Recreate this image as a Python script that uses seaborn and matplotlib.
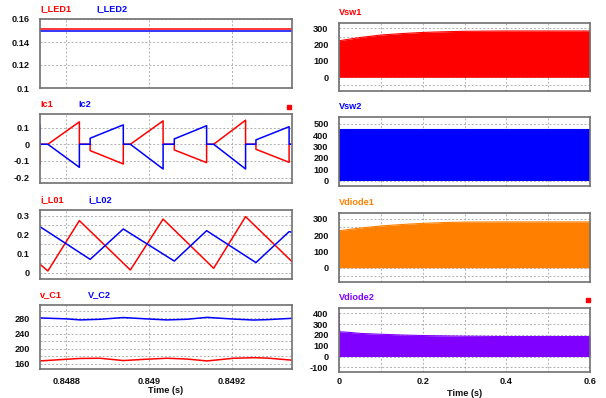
import matplotlib
matplotlib.use("Agg")
import matplotlib.pyplot as plt
import seaborn as sns
from matplotlib.ticker import FixedLocator, FixedFormatter, MultipleLocator
from matplotlib.patches import Rectangle

# ---------------- data ----------------
# left column: zoomed time window
led_t = [0.848737, 0.849345]
i_led1 = [0.1511, 0.1511]
i_led2 = [0.1492, 0.1492]

ic_t = [0.848737, 0.848737, 0.848756, 0.848832, 0.848832, 0.848858, 0.848858,
        0.848938, 0.848938, 0.848955, 0.849034, 0.849034, 0.849061, 0.849061,
        0.849139, 0.849139, 0.849156, 0.849233, 0.849233, 0.849258, 0.849258,
        0.849338, 0.849338, 0.849345]
ic1 = [-0.12, 0, 0, 0.134, 0, 0, -0.038, -0.118, 0, 0, 0.14, 0, 0, -0.034,
       -0.11, 0, 0, 0.144, 0, 0, -0.03, -0.108, 0, 0]
ic2 = [0.116, 0, 0, -0.138, 0, 0, 0.036, 0.116, 0, 0, -0.148, 0, 0, 0.032,
       0.111, 0, 0, -0.148, 0, 0, 0.026, 0.105, 0, 0]

il01_t = [0.848737, 0.848756, 0.848832, 0.848955, 0.849034, 0.849156, 0.849233, 0.849345]
i_l01 = [0.044, 0.009, 0.274, 0.014, 0.282, 0.023, 0.295, 0.058]
il02_t = [0.848737, 0.848858, 0.848938, 0.849061, 0.849139, 0.849258, 0.849338, 0.849345]
i_l02 = [0.242, 0.07, 0.23, 0.061, 0.221, 0.053, 0.216, 0.213]

vc_t = [0.848737, 0.848802, 0.848834, 0.848882, 0.848938, 0.848994, 0.849043,
        0.849091, 0.849140, 0.849204, 0.849252, 0.849285, 0.849345]
v_c1 = [168, 172.5, 174.5, 175, 169, 172.5, 175, 173, 168, 175, 176.5, 175.5, 170]
v_c2 = [281, 278.5, 275.8, 277.5, 282, 278.5, 275.8, 277.5, 282.5, 278, 275.5, 276.5, 280]

# right column: full simulation, switching envelopes (upper edge, lower edge = 0)
sw_t = [0, 0.05, 0.1, 0.15, 0.2, 0.25, 0.3, 0.4, 0.5, 0.6]
vsw1_top = [224, 244, 259, 268, 275, 279, 282, 284, 284, 284]
vsw2_t = [0, 0.6]
vsw2_top = [455, 455]
vd1_top = [228, 244, 257, 266, 273, 278, 281, 282, 282, 282]
vd2_t = [0, 0.0015, 0.003, 0.02, 0.05, 0.1, 0.15, 0.2, 0.3, 0.4, 0.5, 0.6]
vd2_top = [400, 228, 228, 225, 214, 206, 199, 194, 188, 185, 185, 185]

RED, BLUE, ORANGE, PURPLE = "#FF0000", "#0000FF", "#FF8000", "#8000FF"

# ---------------- figure ----------------
sns.set_style("white")
plt.rcParams["font.family"] = ["Liberation Sans", "DejaVu Sans"]
plt.rcParams["font.weight"] = "bold"

W, H = 606, 398
fig = plt.figure(figsize=(W / 100, H / 100), dpi=100)
fig.patch.set_facecolor("white")


def box(x0, y0, x1, y1):
    return [x0 / W, 1 - y1 / H, (x1 - x0) / W, (y1 - y0) / H]


def ftext(x, y, s, color, size=6.6, ha="left"):
    fig.text(x / W, 1 - y / H, s, color=color, fontsize=size, fontweight="bold",
             ha=ha, va="center")


def style(ax, ylim, yticks, ylabels, yminor=None, xright=False, bottom=False, xpad=5.5):
    ax.set_ylim(*ylim)
    ax.yaxis.set_major_locator(FixedLocator(yticks))
    ax.yaxis.set_major_formatter(FixedFormatter(ylabels))
    if yminor:
        ax.yaxis.set_minor_locator(MultipleLocator(yminor))
    if xright:
        ax.set_xlim(0, 0.6)
        ax.xaxis.set_major_locator(FixedLocator([0, 0.2, 0.4, 0.6]))
        ax.xaxis.set_major_formatter(FixedFormatter(["0", "0.2", "0.4", "0.6"]))
        ax.xaxis.set_minor_locator(MultipleLocator(0.1))
    else:
        ax.set_xlim(0.848737, 0.849345)
        ax.xaxis.set_major_locator(FixedLocator([0.8488, 0.849, 0.8492]))
        ax.xaxis.set_major_formatter(FixedFormatter(["0.8488", "0.849", "0.8492"]))
    ax.grid(True, which="both", color="#B0B0B0", linestyle=(0, (2, 2)), linewidth=0.7)
    ax.set_axisbelow(True)
    ax.tick_params(which="both", length=0, labelsize=6.6, pad=7.5, labelcolor="#111111")
    ax.tick_params(axis="x", pad=xpad)
    for lab in ax.get_yticklabels() + ax.get_xticklabels():
        lab.set_fontweight("bold")
    if not bottom:
        ax.tick_params(axis="x", labelbottom=False)
    for sp in ax.spines.values():
        sp.set_color("#707070")
        sp.set_linewidth(1.2)
    ax.set_xlabel("")
    ax.set_ylabel("")


def lp(ax, x, y, c, lw=1.1):
    sns.lineplot(x=x, y=y, ax=ax, estimator=None, sort=False, color=c, linewidth=lw)


# ---- left column ----
a1 = fig.add_axes(box(40, 19, 292, 88))
lp(a1, led_t, i_led1, RED, 1.1)
lp(a1, led_t, i_led2, BLUE, 1.1)
style(a1, (0.1, 0.16), [0.1, 0.12, 0.14, 0.16], ["0.1", "0.12", "0.14", "0.16"])

a2 = fig.add_axes(box(40, 114, 292, 182.7))
lp(a2, ic_t, ic1, RED)
lp(a2, ic_t, ic2, BLUE)
style(a2, (-0.23, 0.181), [-0.2, -0.1, 0, 0.1], ["-0.2", "-0.1", "0", "0.1"])

a3 = fig.add_axes(box(40, 210, 292, 279.3))
lp(a3, il01_t, i_l01, RED)
lp(a3, il02_t, i_l02, BLUE)
style(a3, (-0.035, 0.33), [0, 0.1, 0.2, 0.3], ["0", "0.1", "0.2", "0.3"], yminor=0.05)

a4 = fig.add_axes(box(40, 305, 292, 369.3))
lp(a4, vc_t, v_c1, RED)
lp(a4, vc_t, v_c2, BLUE)
style(a4, (146, 315), [160, 200, 240, 280], ["160", "200", "240", "280"], yminor=20,
      bottom=True, xpad=5.5)

# ---- right column ----
b1 = fig.add_axes(box(339, 23.3, 590, 90.7))
b1.fill_between(sw_t, 0, vsw1_top, color=RED, lw=0)
lp(b1, sw_t, vsw1_top, RED, 0.8)
style(b1, (-82, 331), [0, 100, 200, 300], ["0", "100", "200", "300"], yminor=50, xright=True)

b2 = fig.add_axes(box(339, 117.3, 590, 186))
b2.fill_between(vsw2_t, 0, vsw2_top, color=BLUE, lw=0)
lp(b2, vsw2_t, vsw2_top, BLUE, 0.8)
style(b2, (-47, 559), [0, 100, 200, 300, 400, 500], ["0", "100", "200", "300", "400", "500"],
      xright=True)

b3 = fig.add_axes(box(339, 213.3, 590, 281.7))
b3.fill_between(sw_t, 0, vd1_top, color=ORANGE, lw=0)
lp(b3, sw_t, vd1_top, ORANGE, 0.8)
style(b3, (-86, 335), [0, 100, 200, 300], ["0", "100", "200", "300"], yminor=50, xright=True)

b4 = fig.add_axes(box(339, 308.3, 590, 372.3))
b4.fill_between(vd2_t, 0, vd2_top, color=PURPLE, lw=0)
lp(b4, vd2_t, vd2_top, PURPLE, 0.8)
style(b4, (-146, 446), [-100, 0, 100, 200, 300, 400],
      ["-100", "0", "100", "200", "300", "400"], xright=True, bottom=True, xpad=3.4)

# ---- trace names ----
ftext(40, 9, "I_LED1", RED); ftext(96, 9, "I_LED2", BLUE)
ftext(40, 104.7, "Ic1", RED); ftext(78, 104.7, "Ic2", BLUE)
ftext(40, 199.5, "i_L01", RED); ftext(88, 199.5, "i_L02", BLUE)
ftext(40, 295, "v_C1", RED); ftext(87.5, 295, "V_C2", BLUE)
ftext(339, 12.3, "Vsw1", RED)
ftext(339, 106.7, "Vsw2", BLUE)
ftext(339, 202.5, "Vdiode1", ORANGE)
ftext(339, 297.3, "Vdiode2", PURPLE)

ftext(166, 390.5, "Time (s)", "#111111", 6.6, ha="center")
ftext(464.5, 393.5, "Time (s)", "#111111", 6.6, ha="center")

# small red markers
for (x0, y0) in [(287.3, 104.7), (585.7, 298.3)]:
    fig.patches.append(Rectangle((x0 / W, 1 - (y0 + 4) / H), 4 / W, 4 / H,
                                 transform=fig.transFigure, color=RED, zorder=5))

fig.savefig("out.png", dpi=100, facecolor="white")
